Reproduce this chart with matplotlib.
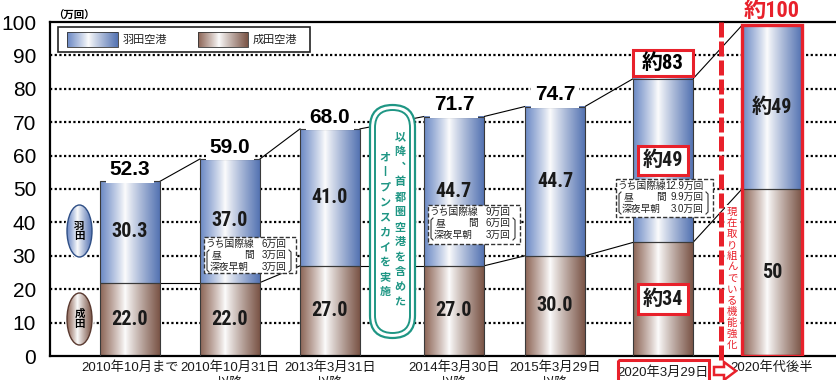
import numpy as np
import matplotlib
matplotlib.use("Agg")
import matplotlib.pyplot as plt
from matplotlib.patches import Rectangle, FancyBboxPatch, Ellipse, Polygon
from matplotlib.colors import to_rgb
from matplotlib import font_manager as fm

# ---------------- data ----------------
periods = ["2010年10月まで", "2010年10月31日\n以降", "2013年3月31日\n以降",
           "2014年3月30日\n以降", "2015年3月29日\n以降", "2020年3月29日\n以降",
           "2020年代後半"]
narita = [22.0, 22.0, 27.0, 27.0, 30.0, 34, 50]
haneda = [30.3, 37.0, 41.0, 44.7, 44.7, 49, 49]
total_labels = ["52.3", "59.0", "68.0", "71.7", "74.7", "約83", "約100"]
haneda_labels = ["30.3", "37.0", "41.0", "44.7", "44.7", "約49", "約49"]
narita_labels = ["22.0", "22.0", "27.0", "27.0", "30.0", "約34", "50"]
yticks = [0, 10, 20, 30, 40, 50, 60, 70, 80, 90, 100]
series_names = ["羽田空港", "成田空港"]
note_intl = ["6万回", "9万回", "12.9万回"]
note_day = ["3万回", "6万回", "9.9万回"]
note_night = ["3万回", "3万回", "3.0万回"]

# ---------------- layout ----------------
W, H = 836, 380
bar_x = [130, 230, 330, 454, 555, 663, 772]
bar_w = 60
RED = "#e8212b"
TEAL = "#1f9684"
BLUE_L, BLUE_R = "#6a88c4", "#5473b2"
BROWN_L, BROWN_R = "#8c6455", "#7a5446"

JP = "Noto Sans CJK JP"


def _w(f):
    try:
        return int(f.weight)
    except (TypeError, ValueError):
        return 700 if "bold" in str(f.weight) else 400


def pick_bold(*cands):
    for n in cands:
        if any(f.name == n and _w(f) >= 700 for f in fm.fontManager.ttflist):
            return n
    return "Liberation Sans"


COND = pick_bold("Roboto Condensed", "Archivo Narrow", "PT Sans Narrow", "Liberation Sans Narrow")
plt.rcParams["font.family"] = ["Liberation Sans", JP, "DejaVu Sans"]


def grad(c_left, c_right, peak=0.42, n=256):
    t = np.linspace(0, 1, n)
    cl, cr = np.array(to_rgb(c_left)), np.array(to_rgb(c_right))
    img = np.zeros((n, 3))
    for i, v in enumerate(t):
        if v < peak:
            d = ((peak - v) / peak) ** 0.9
            img[i] = (1 - d) * 0.99 + d * cl
        else:
            d = ((v - peak) / (1 - peak)) ** 0.9
            img[i] = (1 - d) * 0.99 + d * cr
    return img[None, :, :]


blue_img = grad(BLUE_L, BLUE_R)
brown_img = grad(BROWN_L, BROWN_R)

fig = plt.figure(figsize=(W / 100, H / 100), dpi=100)
ax = fig.add_axes([50 / W, 24 / H, 786 / W, 334 / H])

# grid
for y in yticks[1:-1]:
    ax.axhline(y, color="black", lw=1.6, linestyle=(0, (1, 1.1)), zorder=1)

# bars
nb = ax.bar(bar_x, narita, width=bar_w, facecolor="none", edgecolor="#3a3a3a", lw=0.8, zorder=3)
hb = ax.bar(bar_x, haneda, bottom=narita, width=bar_w, facecolor="none", edgecolor="#3a3a3a", lw=0.8, zorder=3)
for bars, img in ((nb, brown_img), (hb, blue_img)):
    for p in bars:
        ax.imshow(img, extent=(p.get_x(), p.get_x() + p.get_width(), p.get_y(), p.get_y() + p.get_height()),
                  aspect="auto", interpolation="bilinear", zorder=2.5)

tops = [n + h for n, h in zip(narita, haneda)]
lp = nb[-1]
ax.add_patch(Rectangle((lp.get_x(), 0), lp.get_width(), tops[-1], fc="none", ec=RED, lw=2.4, zorder=4))

# connecting lines
for i in range(len(bar_x) - 1):
    x0 = bar_x[i] + bar_w / 2
    x1 = bar_x[i + 1] - bar_w / 2
    ax.plot([x0, x1], [tops[i], tops[i + 1]], color="black", lw=0.8, zorder=2)
    ax.plot([x0, x1], [narita[i], narita[i + 1]], color="black", lw=0.8, zorder=2)

ax.set_xlim(50, 836)
ax.set_ylim(0, 100)
ax.set_xticks([])
ax.set_yticks(yticks)
ax.set_yticklabels([str(v) for v in yticks], fontsize=15, family="Liberation Sans")
ax.tick_params(axis="y", length=0, pad=10)
for s in ("left", "bottom", "top"):
    ax.spines[s].set_linewidth(1.6)
ax.spines["right"].set_visible(False)

numfam = [COND, JP]
topfam = ["Liberation Sans", JP]
# total labels
for i, lab in enumerate(total_labels):
    if i == 5:
        p = hb[i]
        ax.add_patch(Rectangle((p.get_x(), tops[i] + 0.8), p.get_width(), 7.8, fc="white", ec=RED, lw=2.2, zorder=5))
        ax.text(bar_x[i], tops[i] + 0.8 + 3.9, lab, ha="center", va="center", fontsize=15,
                fontweight="bold", family=numfam, zorder=6)
    elif i == 6:
        ax.text(bar_x[i], tops[i] + 4.3, lab, ha="center", va="center", fontsize=16, color=RED,
                fontweight="bold", family=numfam, zorder=6, clip_on=False)
    else:
        ax.text(bar_x[i], tops[i] + 3.5, lab, ha="center", va="center", fontsize=15,
                fontweight="bold", family=topfam, zorder=6,
                bbox=dict(fc="white", ec="none", pad=2.5))

# segment labels
for i in range(len(bar_x)):
    kw = dict(ha="center", va="center", fontsize=14.5, fontweight="bold", family=numfam, zorder=6,
              color="#1a1a1a")
    box = dict(boxstyle="square,pad=0.25", fc="white", ec=RED, lw=2.2)
    ax.text(bar_x[i], narita[i] + haneda[i] / 2, haneda_labels[i],
            bbox=box if i == 5 else None, **kw)
    ax.text(bar_x[i], narita[i] / 2, narita_labels[i],
            bbox=box if i == 5 else None, **kw)

# category labels (second line mostly cut by the figure edge, as in the source)
xt = ax.get_xaxis_transform()
for i, lab in enumerate(periods):
    lines = lab.split("\n")
    y1 = -0.015 if i != 5 else -0.032
    ax.text(bar_x[i], y1, lines[0], transform=xt, ha="center", va="top", fontsize=9.5,
            clip_on=False, color="#1a1a1a")
    if len(lines) > 1:
        ax.text(bar_x[i], y1 - 0.05, lines[1], transform=xt, ha="center", va="top", fontsize=9.5,
                clip_on=False, color="#1a1a1a")

# ---------------- overlay (pixel coords) ----------------
ov = fig.add_axes([0, 0, 1, 1])
ov.set_xlim(0, W)
ov.set_ylim(H, 0)
ov.axis("off")
ov.patch.set_alpha(0)

ov.text(53, 16, "（万回）", fontsize=7.5, fontweight="bold", va="center", ha="left", family=[JP])

# legend
ov.add_patch(Rectangle((58, 27), 252, 25, fc="white", ec="#222222", lw=1.2, zorder=1))
for (lx0, lx1), img, name in (((67, 118), blue_img, series_names[0]), ((198, 248), brown_img, series_names[1])):
    ov.imshow(img, extent=(lx0, lx1, 47, 32), aspect="auto", interpolation="bilinear", zorder=2)
    ov.add_patch(Rectangle((lx0, 32), lx1 - lx0, 15, fc="none", ec="#333333", lw=0.6, zorder=3))
    ov.text(lx1 + 5, 40, name, fontsize=8, va="center", ha="left", family=[JP], color="#222222", zorder=3)

# side ellipses
for cy, img, txt, ec in ((231, blue_img, "羽\n田", "#2f4f86"), (319, brown_img, "成\n田", "#5a3a30")):
    ov.add_patch(Ellipse((79.5, cy), 29, 56, fc="white", ec="none", zorder=1))
    e = Ellipse((79.5, cy), 25, 52, fc="none", ec=ec, lw=1.0, zorder=3)
    ov.add_patch(e)
    im = ov.imshow(img, extent=(67, 92, cy + 26, cy - 26), aspect="auto", interpolation="bilinear", zorder=2)
    im.set_clip_path(e)
    ov.text(79.5, cy, txt, ha="center", va="center", fontsize=7.5, fontweight="bold",
            family=[JP], linespacing=1.0, zorder=4)
ov.set_xlim(0, W)
ov.set_ylim(H, 0)

# capsule
ov.add_patch(FancyBboxPatch((370, 105), 45, 233, boxstyle="round,pad=0,rounding_size=22.5",
                            fc="white", ec=TEAL, lw=1.6, zorder=2))
ov.add_patch(FancyBboxPatch((375, 110), 35, 223, boxstyle="round,pad=0,rounding_size=17.5",
                            fc="none", ec=TEAL, lw=1.4, zorder=3))
col_r = "以降︑首都圏空港を含めた"
col_l = "オ丨プンスカイを実施"
for k, ch in enumerate(col_r):
    ov.text(400, 137 + 15 * k, ch, ha="center", va="center", fontsize=8, fontweight="bold",
            color=TEAL, family=[JP], zorder=4)
for k, ch in enumerate(col_l):
    ov.text(385, 157 + 15 * k, ch, ha="center", va="center", fontsize=8, fontweight="bold",
            color=TEAL, family=[JP], zorder=4)

# annotation boxes
boxes = [(204, 296, 237, 273), (428, 520, 205, 244), (616, 713, 179, 217)]
for (x0, x1, y0, y1), a, b, c in zip(boxes, note_intl, note_day, note_night):
    ov.add_patch(Rectangle((x0, y0), x1 - x0, y1 - y0, fc="white", ec="#333333", lw=1.0,
                           linestyle=(0, (3, 1.5)), zorder=5))
    ly = [y0 + 6.5, y0 + 18, y0 + 30]
    kw = dict(fontsize=7, va="center", family=["Liberation Sans", JP], zorder=6, color="#222222")
    ov.text(x0 + 1.5, ly[0], "うち国際線", ha="left", **kw)
    ov.text(x1 - 9, ly[0], a, ha="right", **kw)
    ov.text(x0 + 8, ly[1], "昼", ha="left", **kw)
    ov.text(x0 + 50, ly[1], "間", ha="right", **kw)
    ov.text(x1 - 9, ly[1], b, ha="right", **kw)
    ov.text(x0 + 6, ly[2], "深夜早朝", ha="left", **kw)
    ov.text(x1 - 9, ly[2], c, ha="right", **kw)
    bt, bb = ly[1] - 5, ly[2] + 5
    ov.plot([x0 + 5, x0 + 3, x0 + 3, x0 + 5], [bt, bt + 2, bb - 2, bb], color="#333333", lw=0.8, zorder=6)
    ov.plot([x1 - 7, x1 - 5, x1 - 5, x1 - 7], [bt, bt + 2, bb - 2, bb], color="#333333", lw=0.8, zorder=6)

# red dashed separator, vertical text, arrow and box
ov.plot([720.5, 720.5], [22, 362], color=RED, lw=3.6, linestyle=(0, (3.0, 0.8)), zorder=5,
        solid_capstyle="butt")
ov.add_patch(Rectangle((725, 205), 15, 148, fc="white", ec="none", zorder=5))
vtxt = "現在取り組んでいる機能強化"
for k, ch in enumerate(vtxt):
    ov.text(732, 212 + 11.1 * k, ch, ha="center", va="center", fontsize=7.5, color=RED,
            family=[JP], zorder=6)
ov.add_patch(Rectangle((618, 360), 91, 30, fc="none", ec=RED, lw=2.2, zorder=6, clip_on=False))
ov.add_patch(Polygon([(714, 367), (724, 367), (724, 362), (736, 371), (724, 380), (724, 375), (714, 375)],
                     closed=True, fc="white", ec=RED, lw=1.8, zorder=6))

fig.savefig("out.png", dpi=100)
